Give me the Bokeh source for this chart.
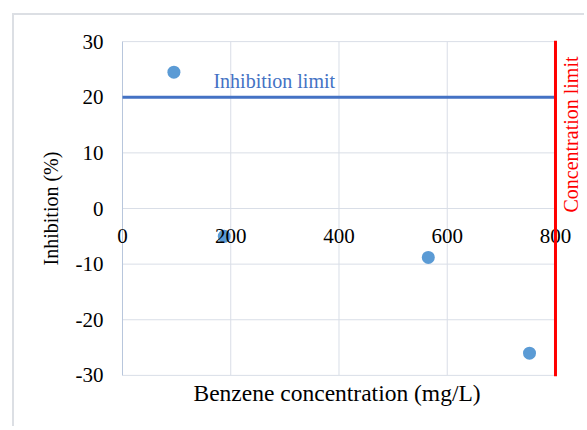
from bokeh.plotting import figure
from bokeh.models import (Range1d, LinearAxis, FixedTicker, Span, Label,
                          NumeralTickFormatter, Title)
from bokeh.embed import file_html
from bokeh.resources import INLINE
import math

# ---- data ----
benzene_conc = [95, 188, 565, 752]
inhibition = [24.5, -5.0, -8.8, -26.0]
limit_x = [0, 800]
inhibition_limit = [20, 20]
concentration_limit = 800
x_ticks = [0, 200, 400, 600, 800]
y_ticks = [-30, -20, -10, 0, 10, 20, 30]

FONT = "Liberation Serif"
GRID = "#d9dee7"
AXIS = "#b8c6dc"

p = figure(frame_width=475, frame_height=336,
           x_range=Range1d(-24.0, 853.6), y_range=Range1d(-30.2, 30.2),
           output_backend="svg", toolbar_location=None,
           min_border_left=95, min_border_top=25,
           min_border_right=0, min_border_bottom=50,
           background_fill_color="white", border_fill_color="white")
p.outline_line_color = None
p.styles = {"margin-left": "12px", "margin-top": "13px",
            "border-left": "2px solid #dcdfe4", "border-top": "2px solid #dcdfe4"}
p.xgrid.visible = False
p.ygrid.visible = False

# gridlines limited to the data area
y_lo, y_hi = y_ticks[0], y_ticks[-1]
x_lo, x_hi = x_ticks[0], x_ticks[-1]
p.segment(x0=x_ticks, y0=[y_lo] * len(x_ticks), x1=x_ticks, y1=[y_hi] * len(x_ticks),
          line_color=GRID, line_width=1)
p.segment(x0=[x_lo] * len(y_ticks), y0=y_ticks, x1=[x_hi] * len(y_ticks), y1=y_ticks,
          line_color=GRID, line_width=1)
# vertical axis line at x = 0
p.segment(x0=[x_lo], y0=[y_lo], x1=[x_lo], y1=[y_hi], line_color=AXIS, line_width=1)

# y axis
ya = p.yaxis[0]
ya.ticker = FixedTicker(ticks=y_ticks)
ya.formatter = NumeralTickFormatter(format="0")
ya.axis_label = "Inhibition (%)"
ya.axis_label_text_font = FONT
ya.axis_label_text_font_size = "20px"
ya.axis_label_text_font_style = "normal"
ya.axis_label_text_color = "black"
ya.axis_label_standoff = 11
ya.major_label_text_font = FONT
ya.major_label_text_font_size = "21px"
ya.major_label_text_color = "black"
ya.major_label_standoff = 6
ya.major_tick_in = 0
ya.major_tick_out = 0
ya.minor_tick_in = 0
ya.minor_tick_out = 0
ya.axis_line_color = None

# default bottom axis not used
p.xaxis[0].visible = False

# x axis crossing at y = 0
xfixed = LinearAxis(fixed_location=0, ticker=FixedTicker(ticks=x_ticks))
xfixed.axis_line_color = None
xfixed.major_tick_in = 0
xfixed.major_tick_out = 0
xfixed.minor_tick_in = 0
xfixed.minor_tick_out = 0
xfixed.major_label_text_font = FONT
xfixed.major_label_text_font_size = "21px"
xfixed.major_label_text_color = "black"
xfixed.major_label_standoff = 20
p.add_layout(xfixed, "below")

# x axis title, centred under the data area
p.add_layout(Title(text="Benzene concentration (mg/L)", align="left", offset=84,
                   standoff=2, text_font=FONT, text_font_size="23.5px",
                   text_font_style="normal", text_color="black"), "below")

# inhibition limit line
p.line(limit_x, inhibition_limit, line_color="#4472C4", line_width=3)
p.add_layout(Label(x=168, y=23, text="Inhibition limit", text_font=FONT,
                   text_font_size="20px", text_color="#4472C4",
                   text_align="left", text_baseline="middle"))

# concentration limit line
p.add_layout(Span(location=concentration_limit, dimension="height",
                  line_color="#ff0000", line_width=3))
p.add_layout(Label(x=concentration_limit, y=13.3, x_offset=16,
                   text="Concentration limit", angle=math.pi / 2,
                   text_font=FONT, text_font_size="20px", text_color="#ff0000",
                   text_align="center", text_baseline="middle"))

# data points
p.scatter(benzene_conc, inhibition, size=13, fill_color="#5B9BD5",
          line_color=None)

open("out.html", "w").write(file_html(p, INLINE))
